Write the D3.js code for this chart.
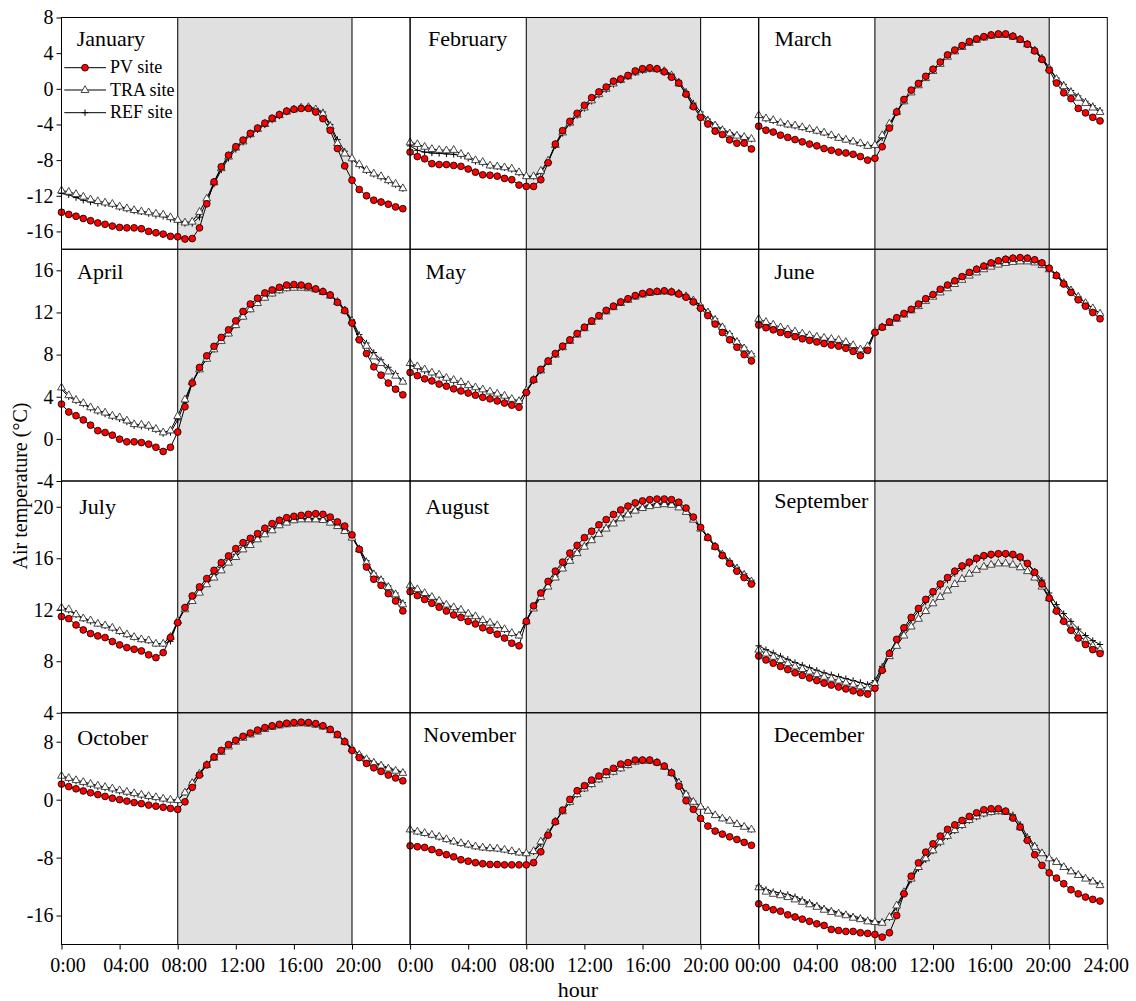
<!DOCTYPE html>
<html><head><meta charset="utf-8">
<script src="https://cdn.jsdelivr.net/npm/d3@7"></script>
<style>
body{margin:0;background:#fff}
svg{display:block}
text{font-family:"Liberation Serif","Times New Roman",serif;fill:#000}
</style>
</head><body>
<svg id="chart" width="1136" height="1001"></svg>
<script>
// ---------------- data ----------------
const months = ["January","February","March","April","May","June","July","August","September","October","November","December"];
const hours = d3.range(0, 24, 0.5); // 0:00 .. 23:30, half-hourly
const seriesNames = ["PV site","TRA site","REF site"];

const pvJan = [-13.85,-14.1,-14.3,-14.55,-14.8,-15.05,-15.2,-15.4,-15.55,-15.6,-15.6,-15.7,-16.0,-16.15,-16.3,-16.55,-16.6,-16.85,-16.8,-15.6,-12.9,-10.45,-8.75,-7.45,-6.5,-5.75,-5.0,-4.4,-3.85,-3.3,-2.9,-2.5,-2.3,-2.2,-2.2,-2.6,-3.35,-4.65,-6.7,-8.65,-10.25,-11.3,-12.0,-12.5,-12.7,-12.95,-13.25,-13.45];
const traJan = [-11.4,-11.55,-11.8,-12.1,-12.4,-12.6,-12.75,-12.9,-13.2,-13.4,-13.6,-13.75,-13.85,-14.0,-14.1,-14.4,-14.7,-15.0,-14.9,-13.8,-12.3,-10.5,-8.9,-7.6,-6.6,-5.9,-5.1,-4.5,-3.95,-3.4,-2.95,-2.55,-2.3,-2.1,-2.05,-2.3,-2.8,-4.2,-6.1,-7.25,-7.8,-8.45,-9.1,-9.5,-9.8,-10.25,-10.65,-11.15];
const refJan = [-11.75,-11.9,-12.2,-12.5,-12.7,-12.85,-12.9,-13.0,-13.3,-13.5,-13.7,-13.8,-14.0,-14.2,-14.3,-14.6,-14.9,-15.1,-15.1,-14.4,-12.6,-10.7,-9.1,-7.8,-6.8,-6.0,-5.2,-4.6,-4.05,-3.5,-3.05,-2.6,-2.35,-2.15,-2.05,-2.2,-2.6,-4.0,-5.7,-7.0,-7.9,-8.6,-9.2,-9.6,-9.95,-10.35,-10.75,-11.2];

const pvFeb = [-7.1,-7.6,-7.85,-8.4,-8.5,-8.5,-8.6,-8.7,-9.0,-9.35,-9.65,-9.7,-9.8,-10.05,-10.2,-10.8,-10.95,-10.95,-10.2,-8.3,-6.2,-4.7,-3.65,-2.75,-1.85,-1.0,-0.35,0.2,0.85,1.1,1.5,2.0,2.25,2.35,2.25,1.9,1.3,0.65,-0.6,-2.0,-3.2,-3.95,-4.75,-5.13,-5.73,-6.1,-6.1,-6.75];
const traFeb = [-6.0,-6.2,-6.5,-6.75,-6.85,-6.9,-6.85,-7.3,-7.6,-8.0,-8.2,-8.6,-8.7,-8.8,-8.95,-9.35,-9.8,-9.8,-9.2,-8.05,-6.3,-4.9,-3.8,-2.9,-2.1,-1.3,-0.6,0.0,0.6,1.0,1.4,1.85,2.1,2.25,2.2,2.0,1.5,0.6,-0.5,-1.9,-2.85,-3.6,-4.1,-4.65,-5.0,-5.25,-5.4,-5.6];
const refFeb = [-6.4,-6.9,-7.1,-7.2,-7.25,-7.3,-7.35,-7.5,-7.8,-8.15,-8.35,-8.65,-8.75,-8.85,-9.05,-9.45,-9.85,-9.85,-9.4,-8.2,-6.4,-5.0,-3.9,-3.0,-2.2,-1.4,-0.7,-0.1,0.5,0.95,1.35,1.8,2.05,2.2,2.2,2.05,1.65,0.85,-0.3,-1.6,-2.6,-3.4,-4.0,-4.5,-4.9,-5.2,-5.4,-5.65];

const pvMar = [-4.2,-4.65,-4.85,-5.2,-5.45,-5.7,-5.95,-6.2,-6.4,-6.7,-6.9,-7.1,-7.2,-7.35,-7.6,-8.0,-7.8,-6.5,-4.4,-2.6,-1.2,-0.15,0.6,1.4,2.2,3.0,3.8,4.35,4.85,5.3,5.6,5.85,6.05,6.15,6.15,5.9,5.55,5.0,4.25,3.3,2.1,0.65,-0.45,-1.1,-2.2,-2.7,-3.2,-3.6];
const traMar = [-2.95,-3.3,-3.5,-3.8,-4.0,-4.1,-4.3,-4.5,-4.7,-4.9,-5.2,-5.5,-5.7,-5.9,-6.1,-6.4,-6.3,-5.2,-3.9,-2.6,-1.4,-0.4,0.4,1.2,2.0,2.8,3.6,4.2,4.7,5.15,5.5,5.75,5.95,6.05,6.05,5.85,5.5,5.0,4.3,3.4,2.3,1.1,0.3,-0.4,-1.0,-1.6,-2.1,-2.6];
const refMar = [-3.1,-3.4,-3.6,-3.85,-4.05,-4.2,-4.35,-4.55,-4.75,-4.95,-5.25,-5.5,-5.7,-5.9,-6.15,-6.4,-6.35,-5.5,-4.1,-2.7,-1.4,-0.3,0.5,1.3,2.1,2.9,3.7,4.25,4.75,5.2,5.55,5.8,6.0,6.1,6.1,5.95,5.6,5.1,4.4,3.5,2.4,1.2,0.5,-0.2,-0.8,-1.4,-1.9,-2.4];

const pvApr = [3.3,2.55,2.2,1.8,1.3,0.78,0.6,0.35,-0.03,-0.28,-0.28,-0.35,-0.5,-0.8,-1.2,-0.8,0.65,3.05,5.3,6.78,7.88,8.78,9.63,10.35,11.2,12.1,12.8,13.35,13.85,14.13,14.38,14.6,14.65,14.6,14.48,14.23,13.98,13.66,12.96,12.17,11.0,9.4,8.1,6.84,6.05,5.3,4.72,4.18];
const traApr = [4.88,4.15,3.7,3.4,3.0,2.7,2.5,2.2,2.05,1.75,1.4,1.35,1.25,0.95,0.62,0.8,2.17,3.74,5.4,6.6,7.6,8.5,9.3,10.0,10.8,11.6,12.3,12.9,13.4,13.8,14.1,14.3,14.35,14.35,14.3,14.2,13.95,13.6,13.0,12.2,11.2,9.63,8.84,7.83,7.2,6.4,6.0,5.43];
const refApr = [4.7,4.0,3.6,3.3,2.9,2.6,2.35,2.1,1.9,1.6,1.25,1.2,1.1,0.85,0.5,0.6,1.8,3.5,5.3,6.6,7.6,8.5,9.3,10.0,10.8,11.6,12.3,12.9,13.4,13.8,14.1,14.3,14.4,14.4,14.35,14.25,14.0,13.7,13.1,12.3,11.3,9.9,9.1,8.2,7.5,6.8,6.2,5.5];

const pvMay = [6.3,6.0,5.7,5.5,5.2,5.0,4.75,4.55,4.35,4.15,3.95,3.8,3.6,3.4,3.2,3.0,4.4,5.6,6.6,7.4,8.1,8.8,9.4,10.0,10.6,11.2,11.7,12.2,12.6,13.0,13.3,13.6,13.8,13.95,14.0,14.05,13.95,13.75,13.45,13.0,12.4,11.7,10.9,10.1,9.4,8.7,8.0,7.4];
const traMay = [7.2,6.9,6.6,6.3,6.1,5.8,5.6,5.4,5.1,4.9,4.7,4.5,4.3,4.1,3.8,3.6,4.6,5.6,6.5,7.3,8.0,8.7,9.3,9.9,10.5,11.1,11.6,12.1,12.5,12.9,13.2,13.5,13.7,13.85,13.95,14.0,13.95,13.8,13.55,13.15,12.6,12.0,11.3,10.6,9.9,9.2,8.6,8.0];
const refMay = [7.0,6.7,6.45,6.2,5.95,5.7,5.45,5.25,5.0,4.8,4.6,4.4,4.2,4.0,3.75,3.55,4.5,5.5,6.45,7.3,8.0,8.7,9.35,9.95,10.55,11.15,11.65,12.15,12.55,12.95,13.25,13.55,13.75,13.9,14.0,14.05,14.0,13.85,13.6,13.2,12.7,12.1,11.4,10.7,10.0,9.3,8.7,8.1];

const pvJun = [10.8,10.55,10.35,10.1,9.9,9.7,9.5,9.35,9.2,9.05,8.9,8.8,8.6,8.3,7.9,8.4,10.1,10.6,11.1,11.5,11.9,12.3,12.8,13.3,13.7,14.2,14.6,15.0,15.4,15.8,16.1,16.4,16.7,16.9,17.05,17.15,17.2,17.15,17.0,16.7,16.2,15.5,14.7,13.9,13.2,12.6,12.0,11.4];
const traJun = [11.4,11.1,10.85,10.6,10.4,10.2,10.0,9.85,9.7,9.6,9.5,9.4,9.2,8.9,8.5,8.8,10.2,10.6,11.0,11.4,11.8,12.2,12.6,13.1,13.5,13.9,14.3,14.7,15.1,15.5,15.8,16.1,16.35,16.55,16.7,16.8,16.85,16.85,16.75,16.5,16.1,15.5,14.8,14.1,13.5,12.9,12.4,11.9];
const refJun = [11.1,10.85,10.6,10.4,10.2,10.0,9.8,9.65,9.5,9.4,9.3,9.2,9.0,8.7,8.4,8.7,10.2,10.6,11.1,11.5,11.9,12.3,12.8,13.3,13.7,14.2,14.6,15.0,15.4,15.8,16.15,16.45,16.75,16.95,17.1,17.2,17.25,17.2,17.05,16.75,16.25,15.6,14.9,14.2,13.5,12.9,12.4,11.9];

const pvJul = [11.47,11.31,10.82,10.43,10.15,9.97,9.84,9.53,9.27,9.06,8.93,8.8,8.5,8.28,8.67,9.84,11.0,12.17,13.07,13.77,14.42,15.06,15.66,16.18,16.75,17.21,17.55,17.91,18.33,18.69,18.95,19.15,19.26,19.33,19.41,19.46,19.41,19.2,18.82,18.5,17.81,16.69,15.32,14.37,13.9,13.25,12.68,11.91];
const traJul = [12.17,12.04,11.65,11.34,11.18,10.92,10.79,10.61,10.35,10.1,9.89,9.71,9.63,9.37,9.37,9.9,11.13,12.04,12.68,13.33,13.98,14.5,15.06,15.66,16.1,16.69,17.03,17.47,17.86,18.17,18.56,18.77,18.95,19.02,19.02,19.02,18.97,18.77,18.5,18.12,17.6,16.69,15.66,14.75,14.29,13.77,13.2,12.42];
const refJul = [12.1,11.95,11.6,11.3,11.1,10.9,10.75,10.55,10.3,10.05,9.85,9.7,9.6,9.35,9.35,9.55,11.1,12.2,12.9,13.55,14.2,14.75,15.3,15.85,16.3,16.85,17.2,17.6,17.95,18.3,18.65,18.85,19.0,19.1,19.1,19.1,19.05,18.85,18.55,18.15,17.65,16.8,15.8,14.85,14.4,13.85,13.3,12.55];

const pvAug = [13.4,13.1,12.8,12.5,12.2,11.9,11.6,11.4,11.1,10.9,10.6,10.4,10.1,9.8,9.4,9.2,11.1,12.3,13.3,14.2,15.0,15.7,16.4,17.0,17.6,18.1,18.6,19.0,19.4,19.75,20.05,20.3,20.45,20.55,20.6,20.6,20.55,20.35,19.9,19.2,18.4,17.6,16.9,16.2,15.6,15.0,14.5,14.0];
const traAug = [13.9,13.6,13.3,13.0,12.7,12.4,12.2,12.0,11.7,11.5,11.2,11.0,10.8,10.5,10.2,10.0,11.1,12.1,13.0,13.8,14.5,15.2,15.8,16.4,16.9,17.4,17.9,18.3,18.7,19.1,19.4,19.7,19.9,20.05,20.15,20.2,20.15,19.95,19.6,19.0,18.3,17.6,16.9,16.3,15.7,15.2,14.7,14.2];
const refAug = [13.8,13.5,13.2,12.9,12.65,12.35,12.15,11.95,11.65,11.45,11.15,10.95,10.75,10.45,10.15,10.0,11.2,12.2,13.1,13.9,14.6,15.3,15.9,16.5,17.0,17.5,18.0,18.4,18.8,19.2,19.5,19.8,20.0,20.15,20.25,20.3,20.25,20.05,19.7,19.1,18.4,17.7,17.0,16.4,15.8,15.3,14.8,14.3];

const pvSep = [8.4,8.1,7.85,7.6,7.35,7.1,6.9,6.7,6.5,6.3,6.15,6.0,5.85,5.7,5.55,5.45,5.9,7.3,8.6,9.7,10.6,11.4,12.1,12.8,13.4,14.0,14.5,15.0,15.4,15.7,16.0,16.2,16.3,16.35,16.35,16.3,16.1,15.6,14.9,14.0,12.9,11.9,11.1,10.4,9.8,9.3,8.9,8.6];
const traSep = [8.9,8.6,8.35,8.1,7.85,7.6,7.4,7.2,7.0,6.8,6.65,6.5,6.35,6.2,6.05,5.9,6.3,7.4,8.4,9.2,10.0,10.7,11.3,11.9,12.5,13.0,13.5,14.0,14.4,14.8,15.1,15.35,15.5,15.6,15.6,15.5,15.3,15.0,14.5,13.8,12.9,12.0,11.2,10.6,10.0,9.6,9.2,8.9];
const refSep = [9.2,8.9,8.65,8.4,8.15,7.9,7.7,7.5,7.3,7.1,6.95,6.8,6.65,6.5,6.35,6.2,6.5,7.6,8.7,9.6,10.4,11.2,11.9,12.6,13.2,13.8,14.3,14.8,15.2,15.55,15.85,16.05,16.2,16.25,16.25,16.15,15.95,15.6,15.0,14.3,13.3,12.4,11.7,11.1,10.5,10.0,9.6,9.3];

const pvOct = [2.15,1.8,1.5,1.2,0.95,0.7,0.45,0.2,0.0,-0.2,-0.4,-0.55,-0.75,-0.9,-1.05,-1.2,-1.35,-0.3,1.7,3.4,4.8,5.9,6.8,7.6,8.2,8.75,9.2,9.6,9.95,10.2,10.4,10.55,10.65,10.7,10.65,10.5,10.2,9.7,9.0,8.0,6.8,5.8,5.0,4.4,3.9,3.4,3.0,2.6];
const traOct = [3.3,3.0,2.7,2.45,2.2,1.95,1.75,1.55,1.3,1.1,0.9,0.7,0.5,0.35,0.15,0.0,-0.05,1.0,2.3,3.6,4.8,5.8,6.6,7.35,8.0,8.55,9.0,9.4,9.75,10.05,10.25,10.4,10.5,10.55,10.5,10.35,10.1,9.6,8.9,8.0,7.0,6.2,5.6,5.1,4.7,4.3,4.0,3.7];
const refOct = [3.15,2.85,2.55,2.3,2.05,1.8,1.6,1.4,1.15,0.95,0.75,0.55,0.35,0.2,0.05,-0.1,-0.1,1.0,2.4,3.7,4.9,5.9,6.7,7.45,8.1,8.65,9.1,9.5,9.85,10.15,10.35,10.5,10.6,10.65,10.6,10.45,10.2,9.7,9.0,8.1,7.1,6.3,5.7,5.2,4.8,4.4,4.1,3.8];

const pvNov = [-6.37,-6.5,-6.6,-6.9,-7.3,-7.6,-7.9,-8.3,-8.5,-8.7,-8.85,-8.95,-8.95,-9.0,-9.0,-9.0,-9.0,-8.7,-7.2,-4.9,-3.06,-1.44,0.03,1.23,1.92,2.7,3.26,3.85,4.32,4.91,5.1,5.47,5.47,5.47,5.14,4.64,3.71,1.87,-0.15,-1.34,-2.59,-3.65,-4.34,-4.76,-5.13,-5.5,-5.9,-6.3];
const traNov = [-4.11,-4.4,-4.6,-4.85,-5.1,-5.45,-5.77,-6.0,-6.2,-6.45,-6.6,-6.7,-6.75,-6.9,-7.1,-7.3,-7.4,-7.1,-5.77,-4.6,-3.0,-1.6,-0.3,0.77,1.55,2.15,2.8,3.4,3.85,4.32,4.78,5.24,5.38,5.38,5.14,4.55,3.71,2.33,0.72,-0.29,-0.98,-1.53,-2.13,-2.59,-2.9,-3.37,-3.74,-4.11];
const refNov = [-4.2,-4.45,-4.65,-4.9,-5.2,-5.5,-5.8,-6.05,-6.25,-6.5,-6.65,-6.75,-6.8,-6.95,-7.15,-7.3,-7.4,-7.2,-6.1,-4.7,-3.1,-1.6,-0.4,0.7,1.5,2.1,2.75,3.35,3.8,4.3,4.75,5.2,5.35,5.35,5.15,4.6,3.8,2.5,0.9,-0.2,-0.95,-1.5,-2.1,-2.55,-2.9,-3.35,-3.7,-4.1];

const pvDec = [-14.38,-14.88,-15.2,-15.4,-15.9,-16.2,-16.5,-16.8,-17.14,-17.37,-17.92,-18.06,-18.2,-18.2,-18.38,-18.47,-18.61,-18.98,-18.38,-16.0,-13.0,-10.57,-8.73,-7.24,-6.1,-5.03,-4.1,-3.48,-2.87,-2.32,-1.82,-1.4,-1.26,-1.26,-1.58,-2.54,-3.78,-5.62,-7.6,-9.07,-10.1,-10.83,-11.61,-12.44,-13.0,-13.45,-13.77,-14.0];
const traDec = [-12.1,-12.7,-13.0,-13.2,-13.45,-13.77,-14.1,-14.45,-14.8,-15.2,-15.5,-15.73,-15.96,-16.3,-16.5,-16.8,-16.9,-17.0,-16.2,-14.6,-12.75,-10.9,-9.3,-8.1,-7.0,-5.8,-5.0,-4.2,-3.5,-2.8,-2.3,-1.9,-1.7,-1.6,-1.7,-2.4,-3.8,-5.4,-6.5,-7.4,-8.1,-8.6,-9.3,-9.9,-10.4,-10.9,-11.3,-11.8];
const refDec = [-11.9,-12.4,-12.7,-12.9,-13.1,-13.4,-13.8,-14.2,-14.6,-15.0,-15.3,-15.55,-15.8,-16.1,-16.3,-16.6,-16.8,-16.9,-16.3,-14.9,-13.0,-11.1,-9.5,-8.3,-7.1,-6.0,-5.1,-4.3,-3.6,-2.9,-2.4,-2.0,-1.75,-1.6,-1.6,-2.1,-3.4,-5.1,-6.3,-7.3,-8.0,-8.5,-9.2,-9.8,-10.3,-10.8,-11.2,-11.6];

const pvData  = [pvJan,pvFeb,pvMar,pvApr,pvMay,pvJun,pvJul,pvAug,pvSep,pvOct,pvNov,pvDec];
const traData = [traJan,traFeb,traMar,traApr,traMay,traJun,traJul,traAug,traSep,traOct,traNov,traDec];
const refData = [refJan,refFeb,refMar,refApr,refMay,refJun,refJul,refAug,refSep,refOct,refNov,refDec];

// axis settings per row / column
const yDomains = [[-18,8],[-4,18],[4,22],[-20,12]];
const yTickValues = [[-16,-12,-8,-4,0,4,8],[-4,0,4,8,12,16],[4,8,12,16,20],[-16,-8,0,8]];
const xTickValues = [[0,4,8,12,16,20],[0,4,8,12,16,20],[0,4,8,12,16,20,24]];
const xTickLabels = [["0:00","04:00","08:00","12:00","16:00","20:00"],
                     ["0:00","04:00","08:00","12:00","16:00","20:00"],
                     ["00:00","04:00","08:00","12:00","16:00","20:00","24:00"]];
const dayStart = 8, dayEnd = 20;

// ---------------- layout ----------------
const X0 = 61.5, PW = 348.6, Y0 = 17.5, PH = 231.75;
const labelDX = [15.2,17.8,15.7,15.5,15.5,15.5,17.8,15.5,15.5,15.8,13.2,15];
const labelDY = [28.3,28.8,28.2,29.7,29.7,29.7,33.3,33.3,27,32.3,29,29.3];
const xLabelShift = [6,5,-1.5];

const svg = d3.select("#chart");
const gShade = svg.append("g"), gData = svg.append("g"), gTop = svg.append("g");

const triPath = "M0,-4.3L3.9,2.5L-3.9,2.5Z";
const plusPath = "M-3.2,0H3.2M0,-3.2V3.2";

months.forEach((m, k) => {
  const r = Math.floor(k / 3), c = k % 3;
  const gx = X0 + c * PW, gy = Y0 + r * PH;
  const x = d3.scaleLinear().domain([0, 24]).range([gx, gx + PW]);
  const y = d3.scaleLinear().domain(yDomains[r]).range([gy + PH, gy]);

  gShade.append("rect").attr("x", x(dayStart)).attr("y", gy)
    .attr("width", x(dayEnd) - x(dayStart)).attr("height", PH).attr("fill", "#e0e0e0");
  [dayStart, dayEnd].forEach(h => gShade.append("line")
    .attr("x1", x(h)).attr("x2", x(h)).attr("y1", gy).attr("y2", gy + PH)
    .attr("stroke", "#111").attr("stroke-width", 1.1));

  const line = d3.line().x((d, i) => x(hours[i])).y(d => y(d));
  const sets = [refData[k], traData[k], pvData[k]];
  sets.forEach(s => gData.append("path").attr("d", line(s))
    .attr("fill", "none").attr("stroke", "#000").attr("stroke-width", 1));

  gData.append("g").selectAll("path").data(refData[k]).join("path")
    .attr("d", plusPath).attr("transform", (d, i) => `translate(${x(hours[i])},${y(d)})`)
    .attr("stroke", "#000").attr("stroke-width", 1).attr("fill", "none");
  gData.append("g").selectAll("path").data(traData[k]).join("path")
    .attr("d", triPath).attr("transform", (d, i) => `translate(${x(hours[i])},${y(d)})`)
    .attr("stroke", "#333").attr("stroke-width", 0.9).attr("fill", "#fff");
  gData.append("g").selectAll("circle").data(pvData[k]).join("circle")
    .attr("cx", (d, i) => x(hours[i])).attr("cy", d => y(d)).attr("r", 3.4)
    .attr("fill", "#ff0000").attr("stroke", "#000").attr("stroke-width", 0.8);

  gTop.append("text").attr("x", gx + labelDX[k]).attr("y", gy + labelDY[k])
    .attr("font-size", 22).text(m);

  gTop.append("rect").attr("x", gx).attr("y", gy).attr("width", PW).attr("height", PH)
    .attr("fill", "none").attr("stroke", "#000").attr("stroke-width", 1);

  if (c === 0) {
    const ax = gTop.append("g").attr("transform", `translate(${gx},0)`)
      .call(d3.axisLeft(y).tickValues(yTickValues[r]).tickSize(5).tickPadding(3).tickFormat(d => String(d)));
    ax.select(".domain").remove();
    ax.selectAll("line").attr("stroke", "#000");
    ax.selectAll("text").attr("font-size", 20).attr("font-family", "Liberation Serif, Times New Roman, serif");
  }
  if (r === 3) {
    const ax = gTop.append("g").attr("transform", `translate(0,${gy + PH})`)
      .call(d3.axisBottom(x).tickValues(xTickValues[c]).tickSize(5).tickPadding(7.8)
        .tickFormat((d, i) => xTickLabels[c][i]));
    ax.select(".domain").remove();
    ax.selectAll("line").attr("stroke", "#000");
    ax.selectAll("text").attr("font-size", 20).attr("dx", xLabelShift[c])
      .attr("font-family", "Liberation Serif, Times New Roman, serif");
  }

  if (k === 0) {
    const legY = [67.7, 90, 112.7];
    const leg = gTop.append("g");
    legY.forEach((ly, j) => {
      leg.append("line").attr("x1", 64.3).attr("x2", 106).attr("y1", ly).attr("y2", ly)
        .attr("stroke", "#000").attr("stroke-width", 1);
      if (j === 0) leg.append("circle").attr("cx", 85).attr("cy", ly).attr("r", 3.4)
        .attr("fill", "#ff0000").attr("stroke", "#000").attr("stroke-width", 0.8);
      if (j === 1) leg.append("path").attr("d", triPath).attr("transform", `translate(85,${ly})`)
        .attr("fill", "#fff").attr("stroke", "#333").attr("stroke-width", 0.9);
      if (j === 2) leg.append("path").attr("d", plusPath).attr("transform", `translate(85,${ly})`)
        .attr("fill", "none").attr("stroke", "#000").attr("stroke-width", 1);
      leg.append("text").attr("x", 110).attr("y", ly + 5.5).attr("font-size", 18).text(seriesNames[j]);
    });
  }
});

svg.append("text").attr("transform", "translate(26.5,486) rotate(-90)")
  .attr("text-anchor", "middle").attr("font-size", 20).text("Air temperature (°C)");
svg.append("text").attr("x", 578).attr("y", 997).attr("text-anchor", "middle")
  .attr("font-size", 22).text("hour");
</script>
</body></html>
